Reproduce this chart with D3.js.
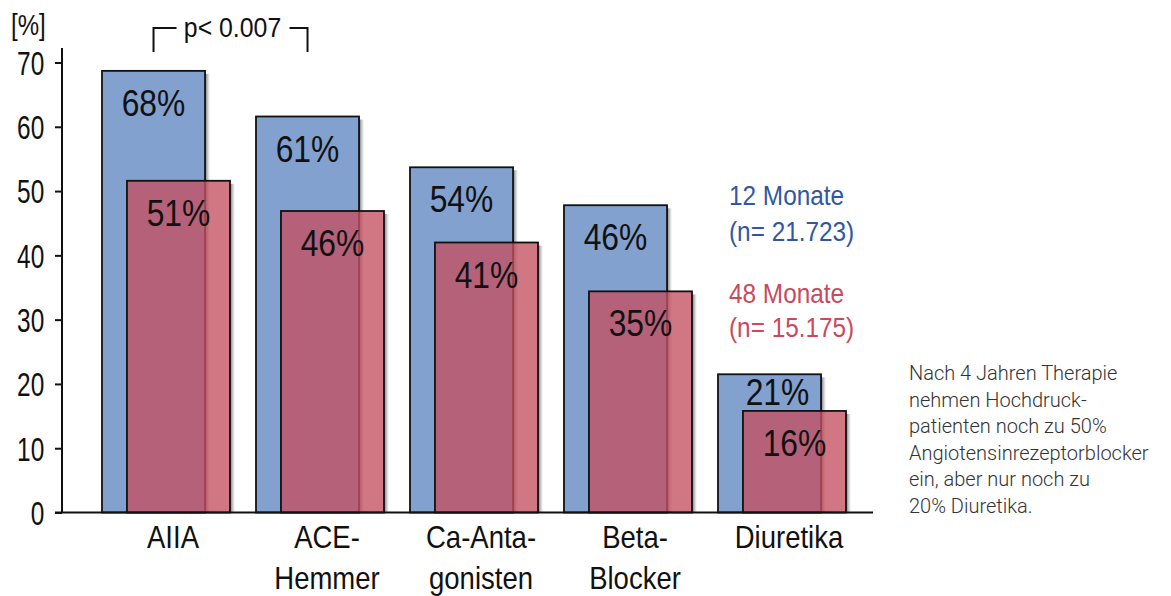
<!DOCTYPE html>
<html>
<head>
<meta charset="utf-8">
<script src="https://cdn.jsdelivr.net/npm/d3@7"></script>
<style>
  body { margin: 0; background: #fff; }
  svg { display: block; }
  text { font-family: "Liberation Sans", Arial, sans-serif; }
</style>
</head>
<body>
<div id="chart"></div>
<script>
// data
var categories = [["AIIA"], ["ACE-", "Hemmer"], ["Ca-Anta-", "gonisten"], ["Beta-", "Blocker"], ["Diuretika"]];
var months12 = [68.7, 61.6, 53.7, 47.8, 21.5];
var months48 = [51.6, 46.9, 42.0, 34.4, 15.8];
var labels12 = ["68%", "61%", "54%", "46%", "21%"];
var labels48 = ["51%", "46%", "41%", "35%", "16%"];
var yTicks = [0, 10, 20, 30, 40, 50, 60, 70];
var legendLines = [
  { text: "12 Monate", series: 0 },
  { text: "(n= 21.723)", series: 0 },
  { text: "48 Monate", series: 1 },
  { text: "(n= 15.175)", series: 1 }
];
var noteLines = ["Nach 4 Jahren Therapie", "nehmen Hochdruck-", "patienten noch zu 50%",
  "Angiotensinrezeptorblocker", "ein, aber nur noch zu", "20% Diuretika."];
var pValue = "p< 0.007";

var width = 1171, height = 596;
var blueFill = "#82a1cf", redFill = "#c45060";
var textColors = ["#31589f", "#c94a5c"];
var SQ = 0.86; // no condensed font installed, so squeeze Liberation Sans

var svg = d3.select("#chart").append("svg")
    .attr("width", width)
    .attr("height", height);

// put a text at its x/y and squeeze it horizontally
function squeeze(sel, sx) {
  sel.attr("transform", function() {
      var t = d3.select(this);
      return "translate(" + t.attr("x") + "," + t.attr("y") + ") scale(" + sx + ",1)";
    })
    .attr("x", 0)
    .attr("y", 0);
}

var defs = svg.append("defs");
var grad = defs.append("linearGradient").attr("id", "shadow");
grad.append("stop").attr("offset", "0%").attr("stop-color", "#333").attr("stop-opacity", 0.7);
grad.append("stop").attr("offset", "100%").attr("stop-color", "#777").attr("stop-opacity", 0);

var y = d3.scaleLinear().domain([0, 70]).range([512.5, 62.5]);
var x = d3.scaleBand()
    .domain(d3.range(categories.length))
    .range([102, 846])
    .paddingInner(26 / 154)
    .paddingOuter(0);
var barW = x.bandwidth() * 0.805;
var offset = x.bandwidth() - barW;

// y axis
var yAxis = svg.append("g")
    .attr("transform", "translate(62,0)")
    .call(d3.axisLeft(y).tickValues(yTicks).tickSize(7).tickPadding(17));
yAxis.select(".domain").remove();
yAxis.selectAll("line").attr("stroke", "#111").attr("stroke-width", 2);
yAxis.selectAll("text")
    .attr("font-size", 33)
    .attr("fill", "#111")
    .attr("dy", "0.36em")
    .attr("transform", "scale(0.74,1)")
    .style("font-family", "'Liberation Sans', Arial, sans-serif");
svg.append("line")
    .attr("x1", 62).attr("x2", 62)
    .attr("y1", 48).attr("y2", y(0))
    .attr("stroke", "#111").attr("stroke-width", 2);

svg.append("text")
    .attr("x", 11).attr("y", 35)
    .attr("font-size", 29)
    .attr("fill", "#111")
    .text("[%]")
    .call(squeeze, 0.83);

var groups = svg.append("g").selectAll("g")
    .data(categories)
    .enter().append("g")
    .attr("transform", (d, i) => "translate(" + x(i) + ",0)");

// blue bars
groups.append("rect")
    .attr("x", barW)
    .attr("y", (d, i) => y(months12[i]) + 3)
    .attr("width", 5)
    .attr("height", (d, i) => y(0) - y(months12[i]) - 3)
    .attr("fill", "url(#shadow)");
groups.append("rect")
    .attr("x", 0)
    .attr("y", (d, i) => y(months12[i]))
    .attr("width", barW)
    .attr("height", (d, i) => y(0) - y(months12[i]))
    .attr("fill", blueFill)
    .attr("stroke", "#111")
    .attr("stroke-width", 1.8);

// red bars, a bit see-through
groups.append("rect")
    .attr("x", offset + barW)
    .attr("y", (d, i) => y(months48[i]) + 3)
    .attr("width", 5)
    .attr("height", (d, i) => y(0) - y(months48[i]) - 3)
    .attr("fill", "url(#shadow)");
groups.append("rect")
    .attr("x", offset)
    .attr("y", (d, i) => y(months48[i]))
    .attr("width", barW)
    .attr("height", (d, i) => y(0) - y(months48[i]))
    .attr("fill", redFill)
    .attr("fill-opacity", 0.78)
    .attr("stroke", "#111")
    .attr("stroke-width", 1.8);

// value labels
groups.append("text")
    .attr("x", (d, i) => barW / 2 + (y(months12[i]) + 45 > y(months48[i]) - 6 ? 8 : 0))
    .attr("y", (d, i) => Math.min(y(months12[i]) + 45, y(months48[i]) - 6))
    .attr("text-anchor", "middle")
    .attr("font-size", 37)
    .attr("fill", "#111")
    .text((d, i) => labels12[i])
    .call(squeeze, SQ);
groups.append("text")
    .attr("x", offset + barW / 2)
    .attr("y", (d, i) => y(months48[i]) + 45)
    .attr("text-anchor", "middle")
    .attr("font-size", 37)
    .attr("fill", "#111")
    .text((d, i) => labels48[i])
    .call(squeeze, SQ);

// category labels, one text per line
groups.each(function(d) {
  d3.select(this).selectAll("text.cat")
    .data(d)
    .enter().append("text")
    .attr("class", "cat")
    .attr("x", x.bandwidth() / 2 + 7)
    .attr("y", (t, i) => 548 + i * 41)
    .attr("text-anchor", "middle")
    .attr("font-size", 32)
    .attr("fill", "#111")
    .text(t => t)
    .call(squeeze, SQ);
});

// x baseline
svg.append("line")
    .attr("x1", 55).attr("x2", 873)
    .attr("y1", y(0)).attr("y2", y(0))
    .attr("stroke", "#111").attr("stroke-width", 2);

// significance bracket between the first two blue bars
var bx1 = x(0) + barW / 2, bx2 = x(1) + barW / 2, by = 28;
var bmid = (bx1 + bx2) / 2;
svg.append("path")
    .attr("d", "M" + bx1 + "," + 52 + "V" + by + "H" + (bmid - 54))
    .attr("fill", "none").attr("stroke", "#111").attr("stroke-width", 2);
svg.append("path")
    .attr("d", "M" + (bmid + 59) + "," + by + "H" + bx2 + "V" + 52)
    .attr("fill", "none").attr("stroke", "#111").attr("stroke-width", 2);
svg.append("text")
    .attr("x", bmid + 2).attr("y", 37)
    .attr("text-anchor", "middle")
    .attr("font-size", 27)
    .attr("fill", "#111")
    .text(pValue)
    .call(squeeze, 0.92);

// legend
svg.append("g").selectAll("text")
    .data(legendLines)
    .enter().append("text")
    .attr("x", 729)
    .attr("y", (d, i) => [205, 241, 303, 337][i])
    .attr("font-size", 28)
    .attr("fill", d => textColors[d.series])
    .text(d => d.text)
    .call(squeeze, 0.87);

// side note
svg.append("g").selectAll("text")
    .data(noteLines)
    .enter().append("text")
    .attr("x", 909)
    .attr("y", (d, i) => 380 + i * 26.6)
    .attr("font-weight", 300)
    .attr("font-size", 20)
    .attr("fill", "#333")
    .style("font-family", "Roboto, sans-serif")
    .text(d => d);
</script>
</body>
</html>
